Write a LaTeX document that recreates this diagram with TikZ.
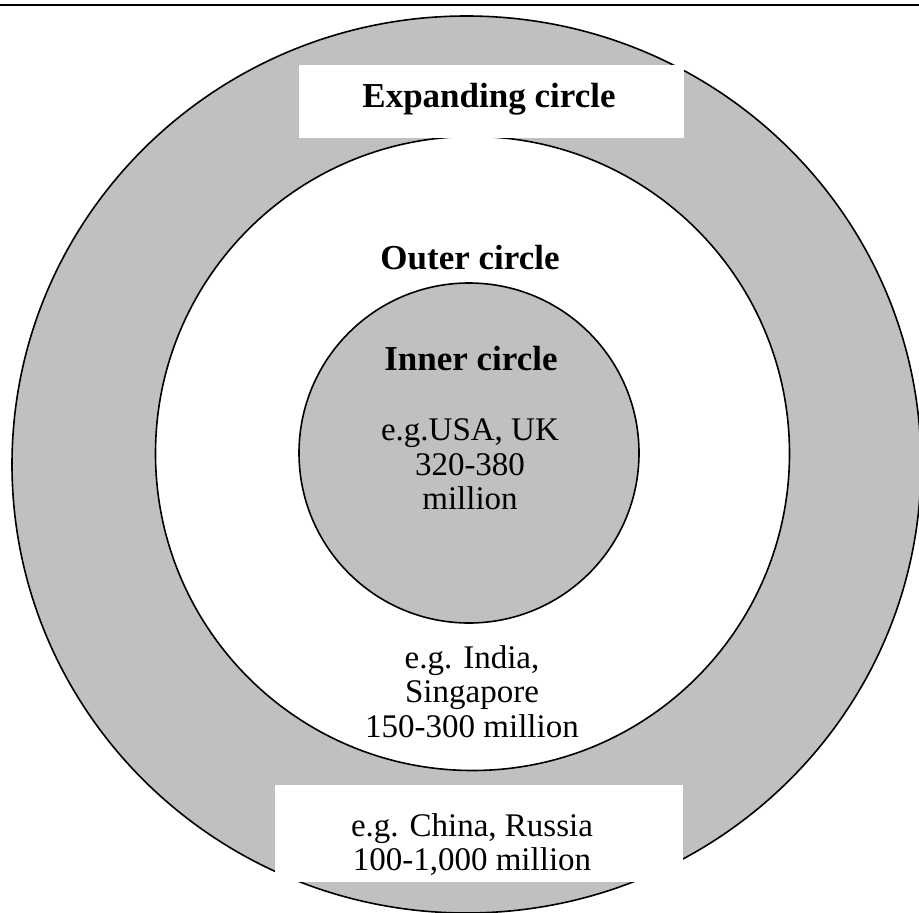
\documentclass[tikz,border=0pt]{standalone}
\usepackage{fontspec}
\setmainfont{Liberation Serif}
\usetikzlibrary{shapes.geometric}
\definecolor{ringgrey}{HTML}{C0C0C0}

\begin{document}
\begin{tikzpicture}[
x=1pt, y=-1pt,
ring/.style={
  draw=black,
  line width=1.6pt,
  inner sep=0pt
  },
plainbox/.style={
  draw=none,
  fill=white,
  inner sep=0pt
  },
heading/.style={
  inner sep=0pt,
  anchor=base,
  font=\fontsize{35}{36}\selectfont\bfseries
  },
note/.style={
  inner sep=0pt,
  align=center,
  font=\fontsize{33}{34.5}\selectfont
  }
]
\useasboundingbox (0,0) rectangle (919,913);

% rings
\node[ring, ellipse, fill=ringgrey, minimum width=909pt, minimum height=897pt] (expanding) at (466.5,464.5) {};
\node[ring, circle, fill=white, minimum size=634pt] (outer) at (472.5,453.5) {};
\node[ring, circle, fill=ringgrey, minimum size=340pt] (inner) at (469,453) {};

% white label boxes
\node[plainbox, minimum width=385pt, minimum height=73pt] (topbox) at (491.5,101.5) {};
\node[plainbox, minimum width=408pt, minimum height=97pt] (bottombox) at (479,833.5) {};

% labels
\node[heading] (expanding label) at (489,107) {Expanding circle};
\node[heading] (outer label) at (470,269) {Outer circle};
\node[heading] (inner label) at (471,370) {Inner circle};
\node[note] (inner note) at (470,464.5) {e.g.USA, UK\\320-380\\million};
\node[note] (outer note) at (472,691.5) {e.g. India,\\Singapore\\150-300 million};
\node[note] (expanding note) at (472,844.5) {e.g. China, Russia\\100-1,000 million};

% rule at the top
\coordinate (rule west) at (0,5);
\coordinate (rule east) at (919,5);
\draw[line width=2pt] (rule west) -- (rule east);
\end{tikzpicture}
\end{document}
